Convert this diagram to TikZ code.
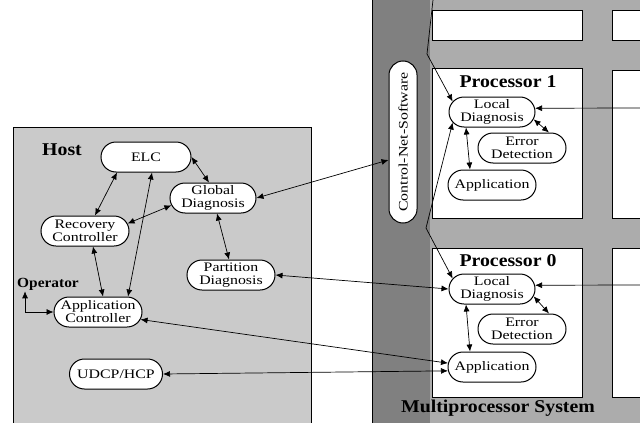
\documentclass[tikz,border=0pt]{standalone}
\usepackage{fontspec}
\setmainfont{Liberation Serif}
\newfontfamily\pillfont[FakeStretch=1.22]{Liberation Serif}
\newfontfamily\ttlfont[FakeStretch=1.1]{Liberation Serif}
\usetikzlibrary{positioning,arrows.meta,calc,shapes.misc}
\definecolor{hostbg}{RGB}{202,202,202}
\definecolor{mpbg}{RGB}{172,172,172}
\definecolor{netbg}{RGB}{128,128,128}
\tikzset{
  pill/.style={draw, line width=1pt, fill=white, rounded rectangle,
    minimum width=88pt, minimum height=30pt, inner sep=1pt, align=center,
    font=\pillfont\fontsize{13}{13}\selectfont},
  ttl/.style={font=\ttlfont\fontsize{18}{20}\selectfont\bfseries},
  proc/.style={fill=white, draw, line width=0.7pt},
  link/.style={{Latex[length=7pt,width=6pt]}-{Latex[length=7pt,width=6pt]}, line width=0.7pt},
  feed/.style={-{Latex[length=7pt,width=6pt]}, line width=0.7pt},
}

\begin{document}
\begin{tikzpicture}[x=1pt,y=-1pt]
\useasboundingbox (0,0) rectangle (640,423);
\fill[white] (0,0) rectangle (640,423);

% ------------------------------------------------- backgrounds
\fill[hostbg] (13,127) rectangle (311,425);
\draw[line width=0.7pt] (13,425) -- (13,127) -- (311,127) -- (311,425);
\fill[mpbg] (372,-2) rectangle (642,425);
\fill[netbg] (372,-2) rectangle (430,425);
\draw[line width=0.7pt] (372,-2) -- (372,425);
\draw[proc] (432,10) rectangle (582,40);
\draw[proc] (612,10) rectangle (645,40);
\draw[proc] (432,68) rectangle (582,218);
\draw[proc] (612,70) rectangle (645,218);
\draw[proc] (432,248) rectangle (582,397);
\draw[proc] (612,248) rectangle (645,397);

% ------------------------------------------------- host
\node[ttl] (host) at (62,150) {Host};
\node[pill, minimum width=92pt] (elc) at (146,157) {ELC};
\node[pill] (gdiag) at (213,198) {Global\\Diagnosis};
\node[pill, minimum width=90pt] (recov) at (85,231) {Recovery\\Controller};
\node[pill, minimum width=90pt] (pdiag) at (231,275) {Partition\\Diagnosis};
\node[font=\ttlfont\fontsize{14}{16}\selectfont\bfseries, inner sep=1pt] (oper) at (48,284) {Operator};
\node[pill, minimum width=90pt] (appctl) at (98,312) {Application\\Controller};
\node[pill, minimum width=95pt] (udcp) at (116,374) {UDCP/HCP};

\draw[link] ($(elc.south)+(-29,0)$) -- ($(recov.north)+(10,0)$);
\draw[link] ($(elc.south)+(6,0)$) -- ($(appctl.north)+(30,0)$);
\draw[link] (elc.east) -- ($(gdiag.north)+(-4,0)$);
\draw[link] (gdiag.190) -- (recov.10);
\draw[link] ($(gdiag.south)+(4,0)$) -- ($(pdiag.north)+(-2,0)$);
\draw[link] ($(recov.south)+(8,0)$) -- ($(appctl.north)+(5,0)$);
\draw[link] ($(oper.south west)+(9,0)$) |- (appctl.west);

% ------------------------------------------------- multiprocessor
\node[pill, rotate=90, minimum width=164pt, minimum height=28pt] (cns) at (403,142) {Control-Net-Software};
\node[ttl] (mps) at (498,408) {Multiprocessor System};

% processor 1
\node[ttl] (p1) at (508,82) {Processor 1};
\node[pill] (ld1) at (492,112) {Local\\Diagnosis};
\node[pill, minimum width=90pt] (ed1) at (522,148) {Error\\Detection};
\node[pill, minimum width=90pt] (app1) at (492,185) {Application};
\draw[link] (ld1.-10) -- ($(ed1.north)+(27,0)$);
\draw[link] ($(ld1.south)+(-26,0)$) -- ($(app1.north)+(-22,0)$);

% processor 0
\node[ttl] (p0) at (508,261) {Processor 0};
\node[pill] (ld0) at (492,289) {Local\\Diagnosis};
\node[pill, minimum width=90pt] (ed0) at (522,329) {Error\\Detection};
\node[pill, minimum width=90pt] (app0) at (492,367) {Application};
\draw[link] (ld0.-10) -- ($(ed0.north)+(27,0)$);
\draw[link] ($(ld0.south)+(-26,0)$) -- ($(app0.north)+(-22,0)$);

% control net
\coordinate (ntop) at (433,0);
\coordinate (nbend) at (427,54);
\coordinate (nmid) at (426,228);
\coordinate (r1) at (642,108);
\coordinate (r0) at (642,285);
\draw[feed] (ntop) -- (nbend) -- (ld1.165);
\draw[link] (ld1.195) -- (nmid) -- (ld0.165);
\draw[feed] (r1) -- (ld1.5);
\draw[feed] (r0) -- (ld0.5);

% ------------------------------------------------- host <-> system
\draw[link] (gdiag.east) -- ($(cns.north)+(0,18)$);
\draw[link] (pdiag.east) -- (ld0.west);
\draw[link] (appctl.-10) -- (app0.175);
\draw[link] (udcp.east) -- (app0.185);

\end{tikzpicture}
\end{document}
